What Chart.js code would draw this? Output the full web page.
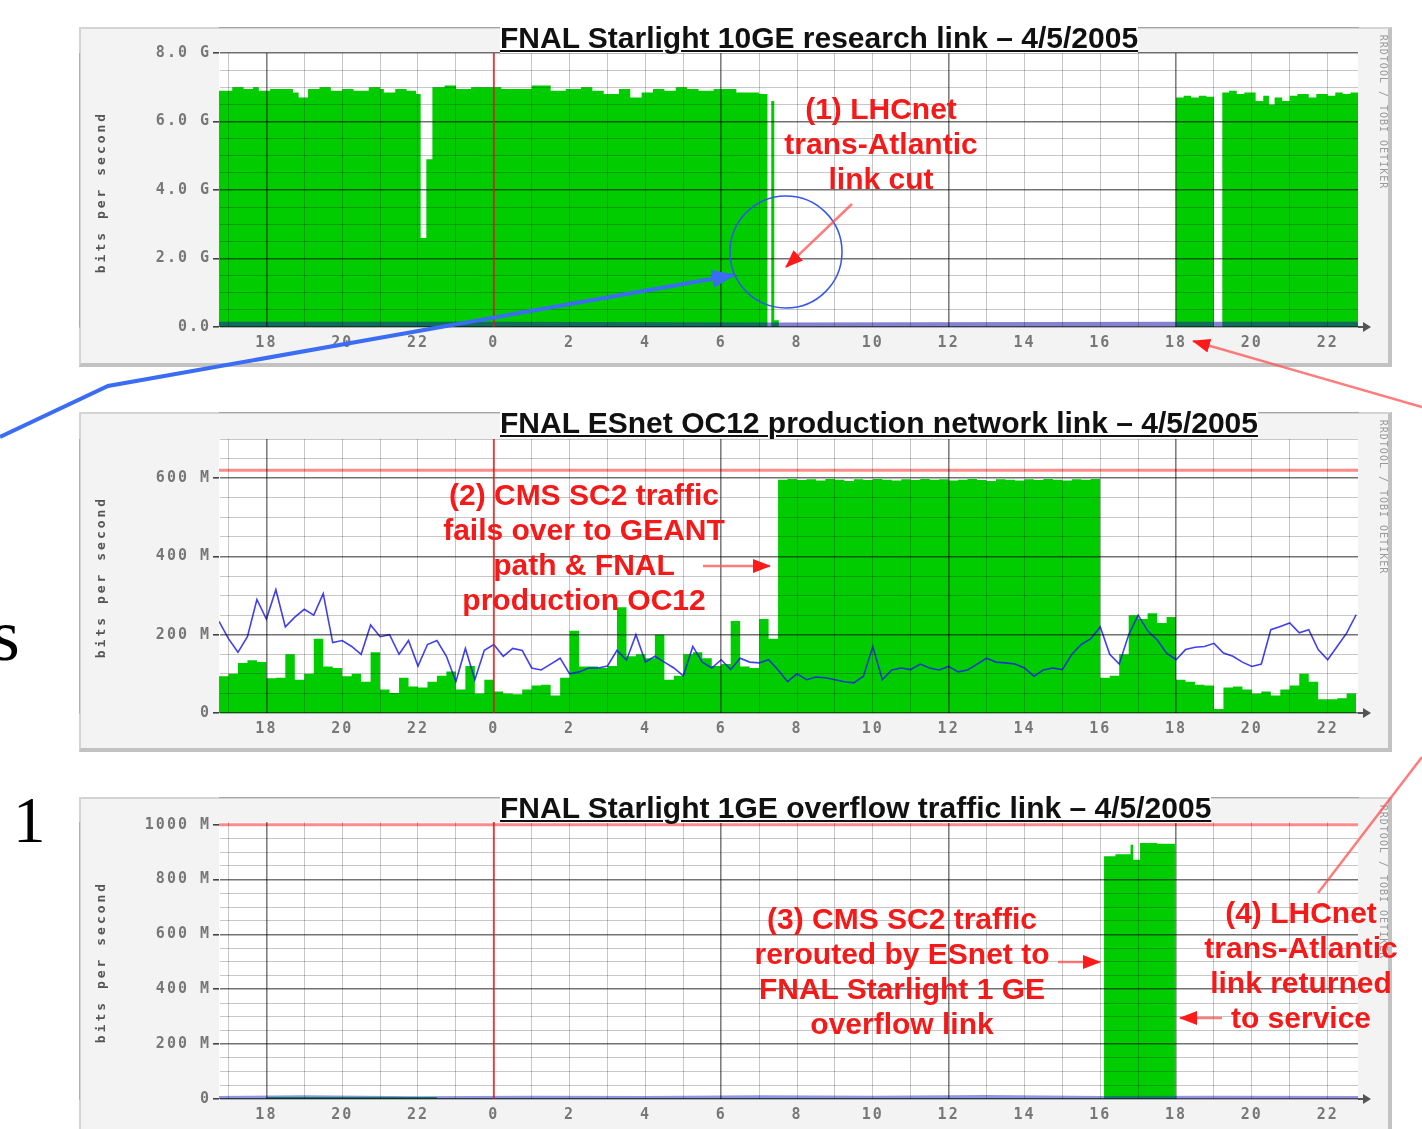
<!DOCTYPE html>
<html>
<head>
<meta charset="utf-8">
<title>FNAL link traffic 4/5/2005</title>
<script src="https://cdn.jsdelivr.net/npm/chart.js@4.4.1/dist/chart.umd.min.js"></script>
<style>
  body { margin: 0; width: 1422px; height: 1129px; position: relative; overflow: hidden; background: #fff;
         font-family: "Liberation Sans", Arial, sans-serif; }
  .frame { position: absolute; left: 79px; width: 1313px; height: 340px; box-sizing: border-box; background: #f3f3f3;
           border: 2px solid #d4d4d4; border-right: 4px solid #c2c2c2; border-bottom: 4px solid #c2c2c2; }
  canvas { position: absolute; left: 79px; }
  .title { position: absolute; left: 500px; font-weight: bold; font-size: 30px; line-height: 30px; color: #111;
           text-decoration: underline; text-decoration-thickness: 2px; text-underline-offset: 2px;
           background: #fff; white-space: nowrap; z-index: 3; }
  .ytitle { position: absolute; left: 100px; font: bold 13px "DejaVu Sans Mono", monospace; letter-spacing: 3px;
            color: #555; white-space: nowrap; transform: translate(-50%, -50%) rotate(-90deg); z-index: 3; }
  .rrd { position: absolute; left: 1383px; font: 10px "DejaVu Sans Mono", monospace; letter-spacing: 1px;
         color: #999; white-space: nowrap; transform: translate(-50%, -50%) rotate(90deg); z-index: 3; }
  .note { position: absolute; color: #f41a1a; font-weight: bold; font-size: 30px; line-height: 35px;
          text-align: center; white-space: nowrap; transform: translateX(-50%); z-index: 4; }
  .big { position: absolute; font-family: "Liberation Serif", "Times New Roman", serif; color: #000; z-index: 4; }
  svg { position: absolute; left: 0; top: 0; z-index: 5; }
</style>
</head>
<body>

<div class="frame" style="top:27px"></div>
<div class="frame" style="top:412px"></div>
<div class="frame" style="top:797px"></div>

<canvas id="chart-1" width="1313" height="340" style="top:27px"></canvas>
<canvas id="chart-2" width="1313" height="340" style="top:412px"></canvas>
<canvas id="chart-3" width="1313" height="340" style="top:797px"></canvas>

<div class="title" style="top:23px">FNAL Starlight 10GE research link – 4/5/2005</div>
<div class="title" style="top:408px">FNAL ESnet OC12 production network link – 4/5/2005</div>
<div class="title" style="top:793px">FNAL Starlight 1GE overflow traffic link – 4/5/2005</div>

<div class="ytitle" style="top:192px">bits per second</div>
<div class="ytitle" style="top:577px">bits per second</div>
<div class="ytitle" style="top:962px">bits per second</div>

<div class="rrd" style="top:112px">RRDTOOL / TOBI OETIKER</div>
<div class="rrd" style="top:497px">RRDTOOL / TOBI OETIKER</div>
<div class="rrd" style="top:882px">RRDTOOL / TOBI OETIKER</div>

<div class="note" style="left:881px;top:91px">(1) LHCnet<br>trans-Atlantic<br>link cut</div>
<div class="note" style="left:584px;top:477px">(2) CMS SC2 traffic<br>fails over to GEANT<br>path &amp; FNAL<br>production OC12</div>
<div class="note" style="left:902px;top:901px">(3) CMS SC2 traffic<br>rerouted by ESnet to<br>FNAL Starlight 1 GE<br>overflow link</div>
<div class="note" style="left:1301px;top:895px">(4) LHCnet<br>trans-Atlantic<br>link returned<br>to service</div>

<div class="big" style="left:-9px;top:598px;font-size:74px;line-height:74px">s</div>
<div class="big" style="left:13px;top:788px;font-size:65px;line-height:65px">1</div>

<svg width="1422" height="1129">
  <defs>
    <marker id="head-blue" markerWidth="24" markerHeight="18" refX="22" refY="9" orient="auto" markerUnits="userSpaceOnUse">
      <path d="M0,0 L24,9 L0,18 Z" fill="#3a6cf4"/>
    </marker>
    <marker id="head-red" markerWidth="18" markerHeight="14" refX="17" refY="7" orient="auto" markerUnits="userSpaceOnUse">
      <path d="M0,0 L18,7 L0,14 Z" fill="#ff1a1a"/>
    </marker>
  </defs>
  <polyline points="0,437 108,386 734,275" fill="none" stroke="#3a6cf4" stroke-width="4" marker-end="url(#head-blue)"/>
  <ellipse cx="786" cy="252" rx="56" ry="56" fill="none" stroke="#3355ee" stroke-width="1.5"/>
  <g stroke="rgba(255,80,80,0.75)" stroke-width="2.5" fill="none">
    <line x1="852" y1="204" x2="786" y2="267" marker-end="url(#head-red)"/>
    <line x1="703" y1="566" x2="770" y2="566" marker-end="url(#head-red)"/>
    <line x1="1058" y1="962" x2="1100" y2="962" marker-end="url(#head-red)"/>
    <line x1="1222" y1="1018" x2="1180" y2="1018" marker-end="url(#head-red)"/>
    <line x1="1318" y1="893" x2="1422" y2="757"/>
    <line x1="1422" y1="407" x2="1193" y2="341" marker-end="url(#head-red)"/>
  </g>
</svg>

<script>
// ==================data=================
// x values are hours relative to midnight of 4/5/2005 (18 = 18:00 the day before)
const xStart = -7.25;
const xEnd = 22.8;

// chart 1: FNAL Starlight 10GE research link, Gbit/s
const p1InTimes = [-7.25, -6.9, -6.6, -6.35, -6.2, -5.9, -5.5, -5.3, -5.15, -4.9, -4.6, -4.3, -4.0, -3.7,
  -3.3, -3.0, -2.9, -2.6, -2.3, -2.05, -1.93, -1.78, -1.62, -1.3, -1.0, -0.6, -0.2, 0.2, 0.6, 1.0,
  1.5, 1.9, 2.3, 2.6, 2.9, 3.3, 3.6, 3.9, 4.2, 4.5, 4.8, 5.1, 5.4, 5.8, 6.1, 6.4, 6.7, 7.0,
  7.22, 7.32, 7.4, 7.52, 18.0, 18.2, 18.4, 18.6, 18.8, 19.0, 19.22, 19.4, 19.6, 19.8, 20.1, 20.3,
  20.45, 20.6, 20.8, 21.0, 21.2, 21.5, 21.7, 22.0, 22.2, 22.4, 22.6, 22.8];
const p1In = [6.9, 7.0, 6.95, 7.0, 6.9, 6.95, 6.95, 6.85, 6.7, 6.95, 7.0, 6.9, 6.95, 6.9,
  7.0, 6.95, 6.85, 6.95, 6.9, 6.8, 2.6, 4.9, 7.0, 7.05, 6.95, 7.0, 7.0, 6.95, 6.95, 7.05,
  6.9, 6.95, 7.0, 6.9, 6.8, 6.95, 6.7, 6.85, 6.95, 6.9, 7.0, 6.95, 6.9, 6.95, 6.95, 6.85, 6.85, 6.8,
  0, 6.6, 0.2, 0, 6.7, 6.75, 6.7, 6.75, 6.72, 0, 6.85, 6.9, 6.8, 6.85, 6.6, 6.75,
  6.5, 6.7, 6.6, 6.75, 6.8, 6.7, 6.8, 6.75, 6.85, 6.8, 6.85, 6.85];
const p1OutTimes = [-7.25, 0, 7.5, 18, 22.8];
const p1Out = [0.08, 0.08, 0.06, 0.08, 0.08];

// chart 2: FNAL ESnet OC12 production link, Mbit/s, one sample every 15 minutes from xStart
const p2Step = 0.25;
const p2In = [94, 100, 128, 135, 130, 89, 90, 150, 85, 100, 190, 119, 115, 94, 100, 80, 155, 60, 51, 90,
  68, 65, 80, 95, 106, 60, 120, 50, 85,
  55, 50, 48, 60, 70, 72, 45, 90, 210, 119, 119, 115, 120, 270, 145, 150, 140, 200, 85, 95,
  150, 155, 140, 120, 125, 235, 119, 115, 240, 190,
  596, 598, 595, 597, 594, 598, 596, 593, 597, 595, 598, 596, 594, 597, 595, 598, 596, 597,
  594, 596, 598, 595, 593, 597, 596, 594, 597, 595, 598, 596, 594, 597, 596, 598,
  90, 95, 150, 250, 240, 255, 230, 245, 85, 80, 72, 70, 10, 65, 68, 60, 50, 55, 45, 60,
  70, 100, 80, 35, 35, 38, 50, 50];
const p2Out = [234, 190, 155, 195, 290, 240, 315, 220, 245, 265, 250, 305, 180, 185, 170, 150, 225, 195, 200, 150,
  185, 120, 175, 185, 145, 80, 165, 85, 160,
  175, 145, 165, 160, 115, 110, 125, 140, 100, 105, 115, 115, 120, 160, 135, 200, 130, 145, 130, 115,
  95, 170, 130, 115, 136, 111, 140, 130, 128, 136,
  110, 80, 100, 85, 92, 90, 85, 80, 77, 94, 170, 85, 110, 115, 111, 125, 115, 110,
  119, 105, 110, 125, 140, 130, 128, 125, 115, 94, 110, 115, 111, 150, 175, 190,
  220, 150, 125, 200, 250, 210, 187, 153, 136, 162, 168, 170, 178, 153, 145, 130, 119, 125, 213, 221,
  230, 205, 213, 162, 136, 170, 204, 251];
const p2Rate = 620;

// chart 3: FNAL Starlight 1GE overflow link, Mbit/s
const p3InTimes = [-7.25, -6.0, -1.5, 16.1, 16.4, 16.8, 16.87, 17.05, 17.5, 17.97, 22.8];
const p3In = [2, 7, 2, 885, 892, 927, 872, 933, 931, 0, 0];
const p3OutTimes = [-7.25, -5, -2, 1, 4, 7, 10, 13, 16, 19, 22.8];
const p3Out = [4, 6, 3, 5, 4, 6, 5, 7, 4, 5, 4];
const p3Rate = 1000;

// ==================helpers=================
const p2Times = p2In.map((_, i) => xStart + i * p2Step);

function pts(times, vals) {
  return times.map((t, i) => ({ x: t, y: vals[i] }));
}

function inSet(times, vals) {
  return { data: pts(times, vals), stepped: true, fill: "origin", backgroundColor: "#00cc00",
           borderWidth: 0, pointRadius: 0, order: 3 };
}

function outSet(times, vals, color, width) {
  return { data: pts(times, vals), borderColor: color, borderWidth: width, pointRadius: 0,
           tension: 0, fill: false, order: 1 };
}

function rateSet(rate) {
  return { data: [{ x: xStart, y: rate }, { x: xEnd, y: rate }], borderColor: "rgba(255,60,60,0.6)",
           borderWidth: 3, pointRadius: 0, fill: false, order: 2 };
}

function hourLabel(v) {
  const h = ((v % 24) + 24) % 24;
  return h % 2 === 0 ? String(h) : "";
}

const tickFont = { family: "DejaVu Sans Mono", size: 15, weight: "bold" };

// white plot area, midnight marker and axis arrow
const mrtgLook = {
  id: "mrtgLook",
  beforeDraw(chart) {
    const { ctx, chartArea: a } = chart;
    ctx.save();
    ctx.fillStyle = "#fff";
    ctx.fillRect(a.left, a.top, a.width, a.height);
    ctx.restore();
    ctx.letterSpacing = "2px";
  },
  afterDraw(chart) {
    const { ctx, chartArea: a } = chart;
    const mx = chart.scales.x.getPixelForValue(0);
    ctx.save();
    ctx.strokeStyle = "rgba(255,40,40,0.65)";
    ctx.lineWidth = 2;
    ctx.beginPath();
    ctx.moveTo(mx, a.top);
    ctx.lineTo(mx, a.bottom);
    ctx.stroke();
    ctx.fillStyle = "#555";
    ctx.fillRect(a.right, a.bottom - 1, 8, 2);
    ctx.beginPath();
    ctx.moveTo(a.right + 5, a.bottom - 5);
    ctx.lineTo(a.right + 13, a.bottom);
    ctx.lineTo(a.right + 5, a.bottom + 5);
    ctx.closePath();
    ctx.fill();
    ctx.restore();
  },
};

function makeChart(id, datasets, y) {
  const ctx = document.getElementById(id).getContext("2d");
  const major = (v) => y.label(v) !== "";
  return new Chart(ctx, {
    type: "line",
    data: { datasets: datasets },
    options: {
      responsive: false,
      animation: false,
      devicePixelRatio: 1,
      layout: { padding: { left: 0, right: 34, top: y.top, bottom: 0 } },
      plugins: { legend: { display: false }, tooltip: { enabled: false } },
      scales: {
        x: {
          type: "linear",
          min: xStart,
          max: xEnd,
          afterFit: (s) => { s.height = y.xHeight; },
          ticks: { stepSize: 1, includeBounds: false, autoSkip: false, maxRotation: 0,
                   callback: hourLabel, font: tickFont, color: "#777", padding: 3 },
          grid: {
            z: 1,
            tickLength: 4,
            tickColor: "rgba(0,0,0,0)",
            color: (c) => (c.tick && c.tick.value % 6 === 0 ? "rgba(0,0,0,0.5)" : "rgba(0,0,0,0.22)"),
            lineWidth: (c) => (c.tick && c.tick.value % 6 === 0 ? 1.6 : 1),
          },
          border: { color: "#777", width: 1 },
        },
        y: {
          min: 0,
          max: y.max,
          afterFit: (s) => { s.width = 140; },
          ticks: { stepSize: y.step, includeBounds: false, autoSkip: false,
                   callback: y.label, font: tickFont, color: "#777", padding: 2 },
          grid: {
            z: 1,
            tickLength: 6,
            tickColor: (c) => (c.tick && major(c.tick.value) ? "#444" : "rgba(0,0,0,0)"),
            color: (c) => {
              if (!c.tick) return "rgba(0,0,0,0.22)";
              if (y.rate && c.tick.value === y.rate) return "rgba(0,0,0,0)";
              return major(c.tick.value) ? "rgba(0,0,0,0.55)" : "rgba(0,0,0,0.22)";
            },
            lineWidth: (c) => (c.tick && major(c.tick.value) ? 1.6 : 1),
          },
          border: { color: "#888", width: 1 },
        },
      },
    },
    plugins: [mrtgLook],
  });
}

// ==================chart01=================
makeChart("chart-1", [
  inSet(p1InTimes, p1In),
  outSet(p1OutTimes, p1Out, "rgba(30,30,170,0.55)", 5),
], { top: 26, xHeight: 40, max: 8, step: 0.5,
     label: (v) => (Math.abs(v % 2) < 1e-9 ? (v === 0 ? "0.0" : v.toFixed(1) + " G") : "") });

// ==================chart02=================
makeChart("chart-2", [
  inSet(p2Times, p2In),
  outSet(p2Times, p2Out, "rgba(30,30,235,0.85)", 1.6),
  rateSet(p2Rate),
], { top: 27, xHeight: 39, max: 700, step: 50, rate: p2Rate,
     label: (v) => (v % 200 === 0 ? (v === 0 ? "0" : v + " M") : "") });

// ==================chart03=================
makeChart("chart-3", [
  inSet(p3InTimes, p3In),
  outSet(p3OutTimes, p3Out, "rgba(40,40,200,0.5)", 4),
  rateSet(p3Rate),
], { top: 25, xHeight: 38, max: 1010, step: 50, rate: p3Rate,
     label: (v) => (v % 200 === 0 ? (v === 0 ? "0" : v + " M") : "") });
</script>
</body>
</html>
